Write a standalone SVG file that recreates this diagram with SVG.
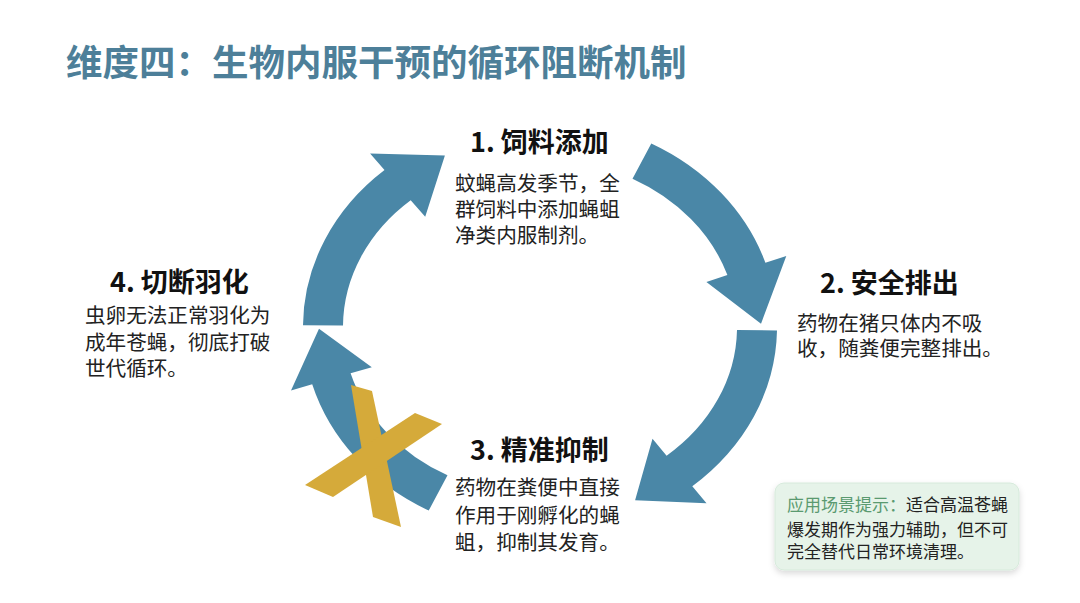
<svg xmlns="http://www.w3.org/2000/svg" width="1080" height="603" viewBox="0 0 1080 603">
<defs>
<style>
.title{font-family:"Noto Sans CJK SC","Noto Sans",sans-serif;font-weight:bold;font-size:36.5px;fill:#4d7f99}
.head{font-family:"Noto Sans CJK SC","Noto Sans",sans-serif;font-weight:bold;font-size:27px;fill:#111}
.body{font-family:"Noto Sans CJK SC","Noto Sans",sans-serif;font-size:20.6px;fill:#222}
.tip{font-family:"Noto Sans CJK SC","Noto Sans",sans-serif;font-size:17px;fill:#222}
.tipk{fill:#5a9a70}
.arc{fill:#4a87a7}
.x{fill:#d5aa3a}
</style>
<filter id="sh" x="-10%" y="-10%" width="120%" height="130%">
<feDropShadow dx="0" dy="3" stdDeviation="3" flood-color="#000" flood-opacity="0.15"/>
</filter>
</defs>
<rect width="1080" height="603" fill="#ffffff"/>
<text class="title" x="66" y="76">维度四：生物内服干预的循环阻断机制</text>
<g id="connectors">
<path class="arc" d="M651.3,143.4 A237,208 0 0 1 765.4,262.7 L786.3,255.9 L761,323.7 L706.4,281.9 L727.4,275.1 A197,168 0 0 0 632.5,178.7 Z"/>
<path class="arc" d="M777,330.6 A237,208 0 0 1 692.3,486.3 L706.5,503.2 L635.1,500.3 L652.5,438.8 L666.6,455.7 A197,168 0 0 0 737,329.9 Z"/>
<path class="arc" d="M428.7,510.6 A237,208 0 0 1 312.2,384.3 L291,390.4 L319,328.7 L371.8,367.2 L350.6,373.3 A197,168 0 0 0 447.5,475.3 Z"/>
<path class="arc" d="M303,325.2 A237,208 0 0 1 384.5,170 L370.1,153.4 L444.9,155.5 L425.2,216.8 L410.7,200.2 A197,168 0 0 0 343,325.5 Z"/>
<g id="cross">
<polygon class="x" points="351,385 372,391 401,527 373,517"/>
<polygon class="x" points="415,413 442,424 333,497 305,485"/>
</g>
</g>
<g id="node1">
<text class="head" x="470" y="152">1. 饲料添加</text>
<text class="body" x="455" y="191">蚊蝇高发季节，全</text>
<text class="body" x="455" y="217">群饲料中添加蝇蛆</text>
<text class="body" x="455" y="243">净类内服制剂。</text>
</g>
<g id="node2">
<text class="head" x="820" y="293">2. 安全排出</text>
<text class="body" x="797" y="331">药物在猪只体内不吸</text>
<text class="body" x="797" y="356">收，随粪便完整排出。</text>
</g>
<g id="node3">
<text class="head" x="470" y="460">3. 精准抑制</text>
<text class="body" x="455" y="495">药物在粪便中直接</text>
<text class="body" x="455" y="523">作用于刚孵化的蝇</text>
<text class="body" x="455" y="550">蛆，抑制其发育。</text>
</g>
<g id="node4">
<text class="head" x="110" y="292">4. 切断羽化</text>
<text class="body" x="85" y="323">虫卵无法正常羽化为</text>
<text class="body" x="85" y="350">成年苍蝇，彻底打破</text>
<text class="body" x="85" y="376">世代循环。</text>
</g>
<g id="tipbox">
<rect x="775" y="483" width="244" height="87" rx="9" fill="#e6f3e9" stroke="#d6eadb" stroke-width="1" filter="url(#sh)"/>
<text class="tip" x="787" y="511"><tspan class="tipk">应用场景提示：</tspan>适合高温苍蝇</text>
<text class="tip" x="787" y="536">爆发期作为强力辅助，但不可</text>
<text class="tip" x="787" y="558">完全替代日常环境清理。</text>
</g>
</svg>
